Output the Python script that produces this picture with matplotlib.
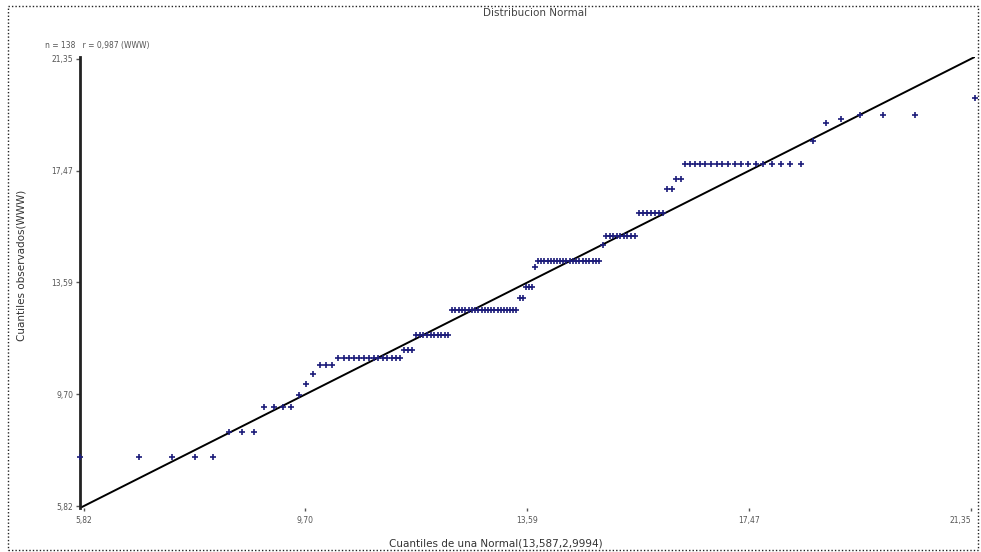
import numpy as np
import matplotlib
matplotlib.use("Agg")
import matplotlib.pyplot as plt
from matplotlib.patches import Rectangle
from statistics import NormalDist

# Observed values (distinct levels) and how many observations sit at each level
obs_levels = [7.54, 8.40, 9.26, 9.68, 10.06, 10.40, 10.74, 10.95, 11.26, 11.78,
              12.64, 13.05, 13.43, 14.12, 14.33, 14.88, 15.19, 16.01, 16.84, 17.18,
              17.70, 18.49, 19.11, 19.25, 19.42, 20.01]
obs_counts = [5, 3, 4, 1, 1, 1, 3, 14, 3, 10,
              21, 2, 3, 1, 20, 1, 9, 7, 2, 2,
              18, 1, 1, 1, 3, 1]

# Fitted normal parameters
mu, sigma = 13.587, 2.9994

# Axis ticks (both axes share the same scale)
axis_ticks = [5.82, 9.70, 13.59, 17.47, 21.35]
tick_labels = ["5,82", "9,70", "13,59", "17,47", "21,35"]

title = "Distribucion Normal"
xlabel = "Cuantiles de una Normal(13,587,2,9994)"
ylabel = "Cuantiles observados(WWW)"
note = "n = 138   r = 0,987 (WWW)"

# Q-Q construction: sorted observations vs. normal quantiles (Blom positions)
observed = np.repeat(obs_levels, obs_counts)
n = len(observed)
dist = NormalDist(mu, sigma)
theoretical = np.array([dist.inv_cdf((i - 0.375) / (n + 0.25)) for i in range(1, n + 1)])

fig = plt.figure(figsize=(9.81, 5.52), dpi=100)
ax = fig.add_axes([0.0815, 0.0797, 0.912, 0.817])

# Both axes span the range of the theoretical quantiles
lo, hi = theoretical[0], theoretical[-1]
ax.plot([lo, hi], [lo, hi], color="black", lw=1.4, zorder=2)
ax.scatter(theoretical, observed, marker="+", s=15, linewidths=1.2,
           color="#1c1c7a", zorder=3, clip_on=False)

ax.set_xlim(lo, hi)
ax.set_ylim(lo, hi)
ax.set_xticks(axis_ticks)
ax.set_xticklabels(tick_labels)
ax.set_yticks(axis_ticks)
ax.set_yticklabels(tick_labels)
ax.get_xticklabels()[-1].set_horizontalalignment("right")

for side in ("top", "right", "bottom"):
    ax.spines[side].set_visible(False)
ax.spines["left"].set_linewidth(2.0)
ax.spines["left"].set_color("#222222")

ax.tick_params(axis="y", length=3, width=1, labelsize=5.5, colors="#555555", pad=2)
ax.tick_params(axis="x", length=2, width=1, labelsize=5.5, colors="#555555", pad=4)
for lab in ax.get_xticklabels() + ax.get_yticklabels():
    lab.set_color("#555555")

fig.text(0.545, 0.977, title, ha="center", va="center", fontsize=7.5, color="#444444")
fig.text(0.505, 0.016, xlabel, ha="center", va="center", fontsize=7.5, color="#333333")
fig.text(0.022, 0.52, ylabel, ha="center", va="center", rotation=90,
         fontsize=7.5, color="#333333")
fig.text(0.046, 0.918, note, ha="left", va="center", fontsize=5.5, color="#555555")

# Dotted frame around the whole figure
fig.patches.append(Rectangle((0.008, 0.003), 0.989, 0.986, transform=fig.transFigure,
                             fill=False, linestyle=(0, (1, 1.5)), lw=1.0,
                             edgecolor="#222222"))

fig.savefig("out.png", dpi=100, facecolor="white")
